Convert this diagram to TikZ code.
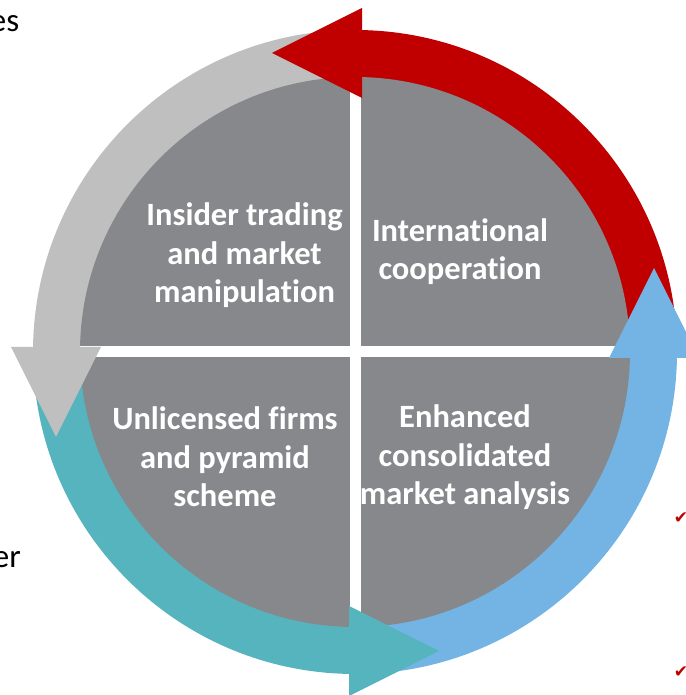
\documentclass[tikz,border=0pt]{standalone}
\usepackage{fontspec}
\setmainfont[Ligatures=NoCommon]{Carlito}
\newfontfamily\symfont{DejaVu Sans}
\definecolor{diskgray}{RGB}{135,136,140}
\definecolor{lightarrow}{RGB}{191,191,191}
\definecolor{redarrow}{RGB}{192,0,0}
\definecolor{tealarrow}{RGB}{86,180,190}
\definecolor{bluearrow}{RGB}{116,180,228}
\tikzset{
  qtext/.style={text=white, font=\fontsize{32.5}{38.5}\selectfont\bfseries, align=center, inner sep=0pt, anchor=base},
  sidetext/.style={text=black, font=\fontsize{33}{40}\selectfont, inner sep=0pt, anchor=base east},
  checkmark/.style={text=redarrow, font=\symfont\fontsize{17}{19}\selectfont, inner sep=0pt}
}
\begin{document}
\begin{tikzpicture}[x=1pt,y=1pt]
\useasboundingbox (0,0) rectangle (685,695);
% ring shafts
\fill[redarrow] (677,343) arc[start angle=0,end angle=90,radius=322] -- (355,615) arc[start angle=90,end angle=0,radius=272] -- cycle;
\fill[lightarrow] (355,665) arc[start angle=90,end angle=180,radius=322] -- (83,343) arc[start angle=180,end angle=90,radius=272] -- cycle;
\fill[tealarrow] (33,343) arc[start angle=180,end angle=270,radius=322] -- (355,71) arc[start angle=270,end angle=180,radius=272] -- cycle;
\fill[bluearrow] (355,21) arc[start angle=270,end angle=360,radius=322] -- (627,343) arc[start angle=360,end angle=270,radius=272] -- cycle;
% disk
\fill[diskgray] (355,343) circle (275);
\begin{scope}
  \clip (355,343) circle (275);
  \fill[white] (349.5,60) rectangle (360.5,630);
  \fill[white] (70,337.5) rectangle (640,348.5);
\end{scope}
% arrow heads
\fill[redarrow] (362,597) -- (362,687) -- (272,642) -- cycle;
\fill[lightarrow] (11,348) -- (101,348) -- (56,258) -- cycle;
\fill[tealarrow] (349,89) -- (349,-1) -- (439,44) -- cycle;
\fill[bluearrow] (699,337) -- (609,337) -- (654,427) -- cycle;
% texts
\node[qtext] (tl) at (244.5,392) {Insider trading\\and market\\manipulation};
\node[qtext] (tr) at (460,415) {International\\cooperation};
\node[qtext] (bl) at (225,188) {Unlicensed firms\\and pyramid\\scheme};
\node[qtext] (br) at (465,190) {Enhanced\\consolidated\\market analysis};
\node[sidetext] (es) at (19.5,663) {es};
\node[sidetext] (er) at (21,127) {er};
\node[checkmark] (c1) at (681,177) {✔};
\node[checkmark] (c2) at (681,23) {✔};
\end{tikzpicture}
\end{document}
